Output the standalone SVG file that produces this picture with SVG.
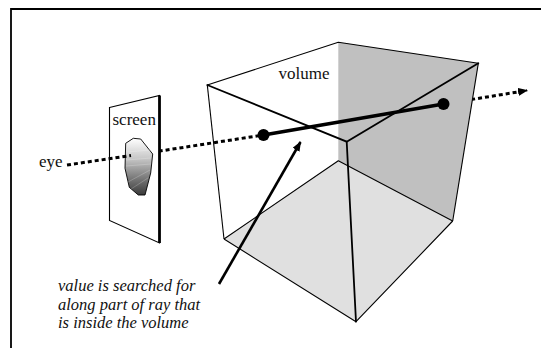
<svg xmlns="http://www.w3.org/2000/svg" width="541" height="348" viewBox="0 0 541 348">
  <style>
    text { font-family: "Liberation Serif", Times, "Times New Roman", "Nimbus Roman", "DejaVu Serif", Georgia, serif; fill: #111; }
    .lbl { font-size: 17px; }
    .note { font-size: 16.5px; font-style: italic; }
    .thin { fill: none; stroke: #000; stroke-width: 1.1; stroke-linejoin: round; }
    .bold { fill: none; stroke: #000; stroke-width: 1.8; stroke-linecap: round; }
    .dots { fill: none; stroke: #000; stroke-width: 3; stroke-dasharray: 4 3; }
  </style>
  <defs>
    <linearGradient id="blobFill" x1="0" y1="0" x2="0" y2="1">
      <stop offset="0" stop-color="#ffffff"/>
      <stop offset="0.35" stop-color="#c8c8c8"/>
      <stop offset="0.7" stop-color="#7a7a7a"/>
      <stop offset="1" stop-color="#3a3a3a"/>
    </linearGradient>
    <marker id="tip" viewBox="0 0 10 8" refX="9" refY="4" markerWidth="10" markerHeight="8" markerUnits="userSpaceOnUse" orient="auto">
      <path d="M0,0 L10,4 L0,8 Z" fill="#000"/>
    </marker>
  </defs>

  <!-- frame -->
  <path d="M11,348 V9 H541" fill="none" stroke="#000" stroke-width="1.8"/>

  <!-- ray beyond the screen (partly hidden behind the screen plate) -->
  <g id="connectors">
    <line class="dots" x1="131" y1="155.5" x2="263.5" y2="135"/>
    <line class="dots" x1="443.5" y1="104" x2="527" y2="90.5" marker-end="url(#tip)"/>
  </g>

  <!-- screen plate -->
  <g id="screen">
    <polygon points="109.5,107.5 159.5,95.5 159.5,243 109.5,220.5" fill="#fff" stroke="#000" stroke-width="1.1"/>
    <line x1="159.5" y1="95.5" x2="159.5" y2="243" stroke="#000" stroke-width="2.8"/>
    <text class="lbl" x="112.5" y="125">screen</text>
    <polygon points="133.3,138.3 140.7,139 152.7,154 150.7,173 145,195 138.3,195 129.3,187.3 125,168.3 125.7,143.3"
             fill="url(#blobFill)" stroke="#000" stroke-width="0.9"/>
    <g stroke="#ffffff" stroke-opacity="0.35" stroke-width="0.6">
      <line x1="127" y1="152" x2="150" y2="150"/>
      <line x1="126" y1="160" x2="151" y2="158"/>
      <line x1="126" y1="166" x2="151" y2="164"/>
      <line x1="128" y1="182" x2="150" y2="170"/>
      <line x1="131" y1="189" x2="148" y2="178"/>
    </g>
  </g>

  <!-- eye and ray up to the screen -->
  <g id="eye">
    <text class="lbl" x="39" y="167">eye</text>
    <line class="dots" x1="67" y1="165" x2="131" y2="155.5"/>
  </g>

  <!-- volume cube -->
  <g id="volume">
    <!-- back right face -->
    <polygon points="338.3,42.3 478.3,63.3 452.7,221 338.3,160.7" fill="#c0c0c0"/>
    <!-- floor -->
    <polygon points="224,239 338.3,160.7 452.7,221 356,321.7" fill="#e0e0e0"/>
    <polyline class="thin" points="224,239 338.3,160.7 452.7,221"/>
    <!-- outer thin edges -->
    <polyline class="thin" points="207.3,85 338.3,42.3 478.3,63.3"/>
    <line class="thin" x1="207.3" y1="85" x2="224" y2="239"/>
    <line class="thin" x1="478.3" y1="63.3" x2="452.7" y2="221"/>
    <polyline class="thin" points="224,239 356,321.7 452.7,221"/>
    <!-- front edges -->
    <polyline class="bold" points="207.3,85 346.7,141.7 478.3,63.3"/>
    <line class="bold" x1="346.7" y1="141.7" x2="356" y2="321.7"/>
    <text class="lbl" x="278.5" y="79">volume</text>
  </g>

  <!-- sampled segment inside the volume -->
  <g id="segment">
    <line x1="263.5" y1="135" x2="443.5" y2="104" stroke="#000" stroke-width="3.6"/>
    <circle cx="263.5" cy="135" r="6"/>
    <circle cx="443.5" cy="104" r="6"/>
  </g>

  <!-- annotation -->
  <g id="note">
    <line x1="219" y1="284" x2="300.5" y2="142" stroke="#000" stroke-width="2.6" marker-end="url(#tip)"/>
    <text class="note" x="58" y="291">value is searched for</text>
    <text class="note" x="58" y="309.5">along part of ray that</text>
    <text class="note" x="58" y="328">is inside the volume</text>
  </g>
</svg>
